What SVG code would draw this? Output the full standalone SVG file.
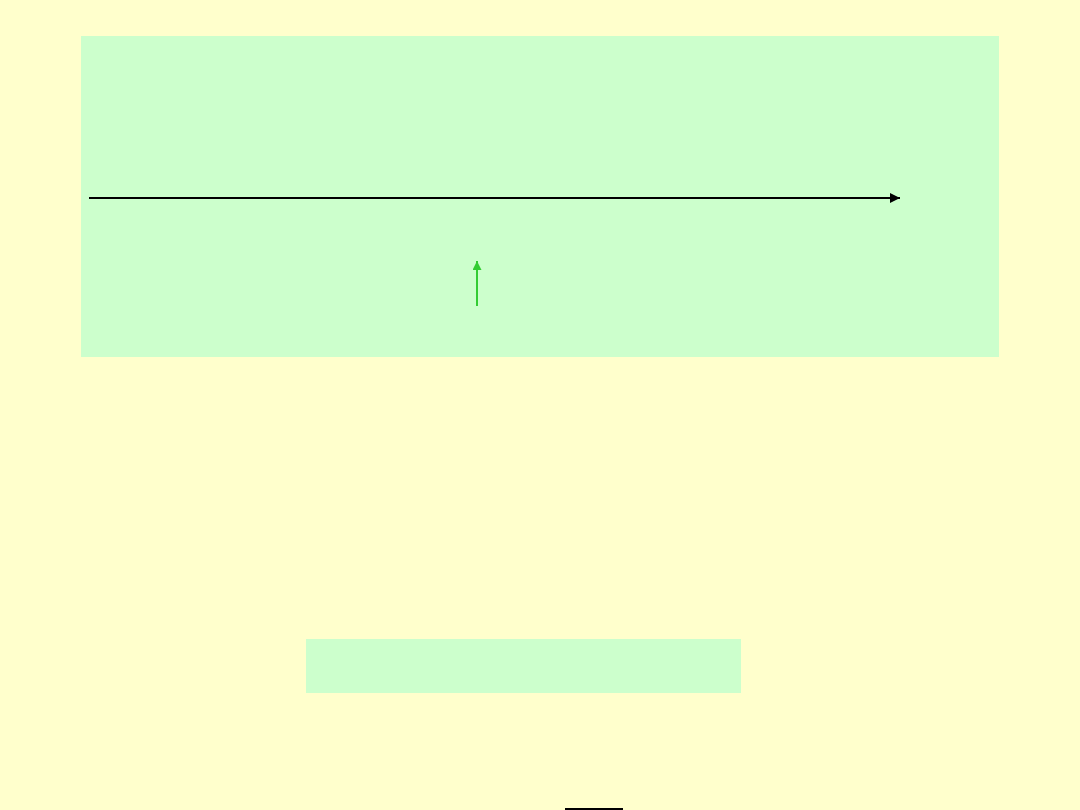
<svg xmlns="http://www.w3.org/2000/svg" width="1080" height="810" viewBox="0 0 1080 810">
  <style>
    .panel { fill: #CCFFCC; }
    .axis { stroke: #000000; stroke-width: 2; fill: none; }
    .pointer { stroke: #33CC33; stroke-width: 2; fill: none; }
  </style>
  <defs>
    <marker id="headBlack" viewBox="0 0 10 10" refX="10" refY="5" markerWidth="5" markerHeight="5" orient="auto" markerUnits="strokeWidth">
      <path d="M0,0 L10,5 L0,10 Z" fill="#000000"/>
    </marker>
    <marker id="headGreen" viewBox="0 0 10 10" refX="10" refY="5" markerWidth="4.5" markerHeight="4.5" orient="auto" markerUnits="strokeWidth">
      <path d="M0,0 L10,5 L0,10 Z" fill="#33CC33"/>
    </marker>
  </defs>
  <rect id="background" x="0" y="0" width="1080" height="810" fill="#FFFFCC"/>
  <g id="top-panel">
    <rect class="panel" x="81" y="36" width="918" height="321"/>
  </g>
  <g id="bottom-panel">
    <rect class="panel" x="306" y="639" width="435" height="54"/>
  </g>
  <g id="connectors">
    <line class="axis" x1="89" y1="198" x2="900" y2="198" marker-end="url(#headBlack)"/>
    <line class="pointer" x1="477" y1="306" x2="477" y2="261" marker-end="url(#headGreen)"/>
    <line class="axis" x1="565" y1="809" x2="623" y2="809"/>
  </g>
</svg>
